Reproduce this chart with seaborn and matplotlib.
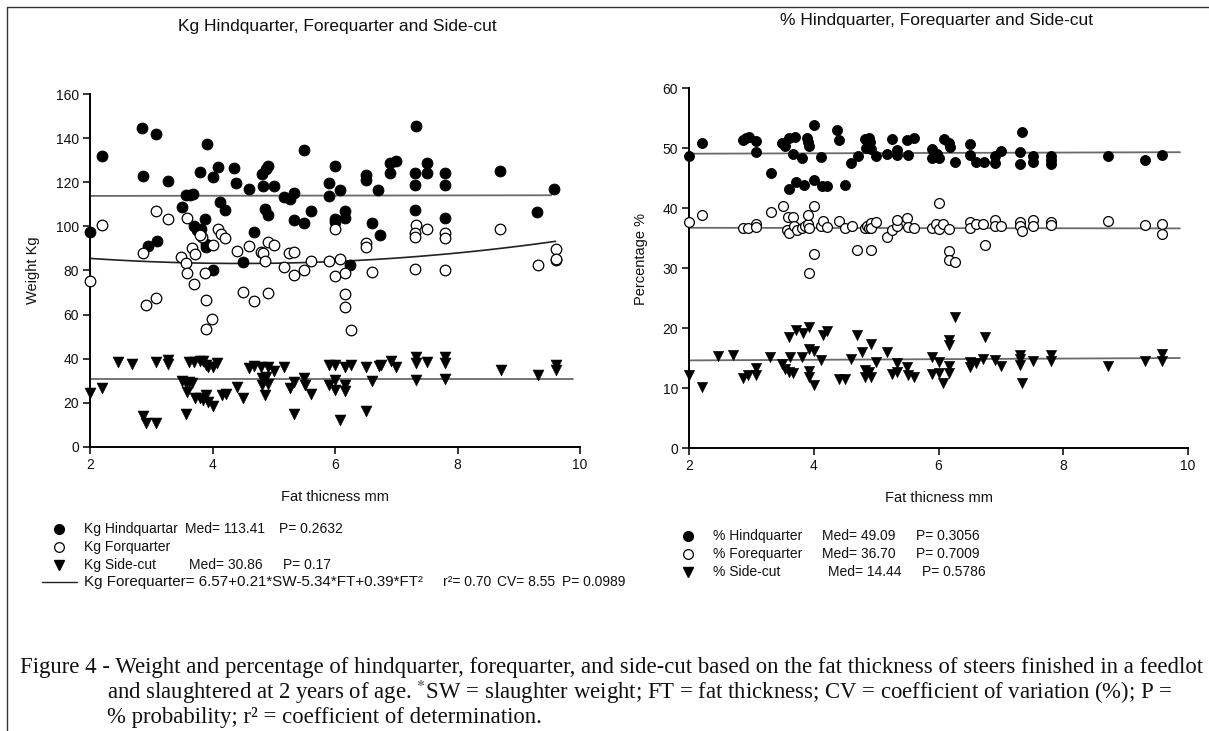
import numpy as np
import pandas as pd
import matplotlib
matplotlib.use("Agg")
import matplotlib.pyplot as plt
import seaborn as sns
from matplotlib.lines import Line2D

# ---------------- data: left panel (kg) ----------------
hind_kg_x = [2.0, 2.19, 2.85, 3.07, 2.86, 3.28, 2.95, 3.10, 3.51, 3.57, 3.63, 3.68, 3.91, 3.80, 4.0, 4.09,
             4.13, 4.2, 3.88, 3.69, 3.75, 3.82, 3.89, 3.89, 4.35, 4.39, 4.59, 4.68, 4.49, 4.0, 4.8, 4.88,
             4.9, 4.82, 5.0, 4.86, 4.91, 5.17, 5.26, 5.33, 5.5, 5.33, 5.5, 5.6, 5.9, 5.9, 6.0, 6.08, 6.0,
             6.0, 6.16, 6.16, 6.5, 6.5, 6.7, 6.6, 6.74, 6.9, 7.0, 6.9, 7.33, 7.31, 7.31, 7.31, 7.5, 7.5,
             7.8, 7.8, 7.8, 8.7, 9.3, 9.58, 6.25]
hind_kg_y = [97.5, 131.9, 144.6, 141.9, 122.8, 120.4, 91.1, 93.2, 108.9, 114.4, 114.1, 114.6, 137.4, 124.7,
             122.5, 127.0, 111.0, 107.4, 103.2, 100.2, 98.2, 99.0, 92.0, 90.5, 126.5, 119.8, 116.8, 97.5,
             83.9, 80.2, 123.7, 126.0, 127.4, 118.3, 118.3, 107.7, 105.3, 113.2, 112.6, 115.0, 134.6, 102.9,
             101.7, 106.8, 119.5, 113.8, 127.4, 116.5, 103.5, 102.0, 106.8, 103.8, 123.4, 121.0, 116.5,
             101.4, 96.0, 128.9, 129.8, 124.1, 145.5, 124.0, 118.6, 107.4, 128.9, 124.0, 124.0, 118.6,
             103.8, 125.0, 106.5, 117.0, 82.4]

fore_kg_x = [2.19, 3.07, 3.28, 2.86, 3.49, 3.58, 3.56, 3.67, 3.71, 3.83, 3.79, 4.0, 4.09, 4.14, 4.2, 4.4,
             4.59, 4.79, 4.82, 4.9, 5.0, 4.86, 5.16, 5.25, 5.33, 5.5, 5.6, 5.9, 6.08, 6.0, 2.0, 2.92, 3.07,
             3.59, 3.69, 3.88, 3.89, 3.99, 3.89, 4.5, 4.68, 4.9, 5.33, 6.0, 6.16, 6.16, 6.16, 6.26, 6.6,
             7.3, 7.8, 9.32, 9.6, 7.33, 7.31, 7.31, 7.5, 7.8, 7.8, 6.5, 6.5, 8.7, 9.6, 9.6]
fore_kg_y = [100.5, 106.8, 103.2, 87.8, 86.3, 103.8, 83.3, 90.2, 87.5, 95.3, 96.0, 91.7, 99.0, 96.5, 94.7,
             88.7, 91.1, 88.4, 88.1, 92.9, 91.7, 84.2, 81.5, 87.8, 88.4, 80.2, 84.2, 84.2, 85.1, 99.0, 75.4,
             64.2, 67.5, 79.0, 73.9, 79.0, 66.6, 57.9, 53.4, 70.3, 66.3, 70.0, 77.8, 77.5, 79.0, 69.4, 63.6,
             53.0, 79.3, 80.8, 80.2, 82.6, 84.8, 100.8, 96.9, 95.1, 98.7, 96.9, 94.7, 92.6, 90.5, 98.7,
             89.9, 85.4]

side_kg_x = [2.0, 2.19, 2.45, 2.69, 2.86, 2.92, 3.08, 3.08, 3.28, 3.28, 3.5, 3.56, 3.62, 3.67, 3.58, 3.56,
             3.62, 3.69, 3.79, 3.85, 3.89, 3.92, 4.0, 4.08, 3.71, 3.79, 3.85, 3.9, 3.93, 4.0, 4.16, 4.22,
             4.4, 4.5, 4.6, 4.68, 4.79, 4.91, 5.0, 5.16, 4.81, 4.87, 4.9, 4.8, 4.86, 5.26, 5.33, 5.33, 5.5,
             5.51, 5.6, 5.9, 6.0, 5.9, 6.0, 6.0, 6.08, 6.17, 6.26, 6.17, 6.17, 6.5, 6.6, 6.5, 6.72, 6.75,
             6.91, 7.0, 7.32, 7.32, 7.33, 7.51, 7.8, 7.8, 7.8, 8.71, 9.32, 9.6, 9.6]
side_kg_y = [24.3, 26.7, 38.5, 37.6, 14.0, 10.7, 11.0, 38.5, 39.4, 37.6, 30.0, 28.8, 29.5, 29.1, 24.9, 15.0,
             38.5, 38.5, 39.1, 38.8, 37.3, 36.4, 36.4, 38.2, 22.2, 22.2, 21.3, 23.7, 20.4, 18.6, 23.7, 24.0,
             27.3, 22.2, 35.8, 36.7, 36.4, 36.1, 34.3, 36.4, 31.3, 31.9, 28.6, 28.3, 23.7, 26.7, 29.5, 15.0,
             31.3, 28.0, 24.0, 37.0, 37.0, 28.2, 30.4, 25.8, 12.2, 36.4, 37.3, 28.2, 25.2, 36.1, 30.0, 16.3,
             36.7, 37.3, 38.8, 36.1, 40.6, 37.9, 30.4, 38.5, 40.9, 37.9, 31.0, 34.9, 32.5, 37.3, 34.9]

# regression / mean lines (left)
hind_kg_line_x = [2.0, 9.53]
hind_kg_line_y = [113.8, 114.1]
side_kg_line_x = [2.0, 9.88]
side_kg_line_y = [30.8, 30.8]
fore_kg_curve = [90.75, -3.39, 0.38]   # a + b*FT + c*FT^2 as drawn
fore_kg_curve_range = [2.0, 9.6]

# ---------------- data: right panel (%) ----------------
hind_pc_x = [2.0, 2.21, 2.86, 2.91, 2.96, 3.08, 3.08, 3.31, 3.49, 3.54, 3.61, 3.7, 3.67, 3.81, 3.6, 3.71,
             3.84, 3.89, 3.91, 3.92, 4.0, 4.0, 4.11, 4.13, 4.22, 4.37, 4.41, 4.5, 4.6, 4.71, 4.82, 4.88,
             4.9, 4.83, 4.91, 5.0, 5.17, 5.26, 5.34, 5.34, 5.49, 5.6, 5.51, 5.89, 5.89, 5.97, 6.01, 6.09,
             6.17, 6.18, 6.26, 6.5, 6.5, 6.6, 6.73, 6.91, 6.91, 7.0, 7.34, 7.3, 7.3, 7.51, 7.51, 7.81,
             7.81, 7.81, 8.71, 9.31, 9.59]
hind_pc_y = [48.6, 50.9, 51.3, 51.7, 51.9, 51.1, 49.4, 45.9, 50.8, 50.4, 51.7, 51.8, 49.05, 48.4, 43.2,
             44.3, 43.9, 51.6, 51.05, 50.4, 53.8, 44.7, 48.5, 43.6, 43.6, 53.05, 51.3, 43.8, 47.5, 48.6,
             51.5, 51.6, 51.05, 49.95, 49.8, 48.7, 49.05, 51.5, 49.6, 48.9, 51.3, 51.6, 48.8, 49.8, 48.4,
             49.05, 48.3, 51.5, 50.8, 50.2, 47.6, 50.6, 48.8, 47.6, 47.6, 48.6, 47.5, 49.5, 52.7, 49.4,
             47.3, 48.6, 47.6, 48.6, 47.95, 47.3, 48.6, 48.05, 48.9]

fore_pc_x = [2.0, 2.21, 2.87, 2.95, 3.08, 3.08, 3.31, 3.5, 3.59, 3.67, 3.57, 3.61, 3.69, 3.73, 3.81, 3.86,
             3.91, 3.92, 3.9, 4.0, 4.0, 4.11, 4.15, 4.22, 4.41, 4.5, 4.61, 4.7, 4.82, 4.85, 4.88, 4.91,
             4.92, 5.0, 4.91, 5.18, 5.26, 5.34, 5.34, 5.5, 5.51, 5.61, 5.89, 5.96, 6.01, 6.08, 6.17, 6.01,
             6.17, 6.17, 6.26, 6.5, 6.5, 6.6, 6.72, 6.75, 6.91, 6.91, 7.0, 7.3, 7.3, 7.34, 7.51, 7.51,
             7.81, 7.81, 8.71, 9.31, 9.59, 9.59, 3.92]
fore_pc_y = [37.6, 38.8, 36.7, 36.6, 37.4, 36.8, 39.3, 40.3, 38.5, 38.5, 36.3, 35.8, 37.05, 36.3, 36.6,
             36.95, 37.3, 36.6, 38.8, 40.3, 32.4, 37.05, 37.8, 36.8, 37.8, 36.6, 37.05, 33.05, 36.7, 37.05,
             36.6, 37.5, 36.6, 37.7, 33.05, 35.2, 36.4, 37.05, 38.05, 38.3, 36.8, 36.6, 36.7, 37.4, 36.5,
             37.4, 36.5, 40.8, 32.8, 31.3, 30.95, 37.7, 36.6, 37.3, 37.3, 33.8, 38.05, 37.05, 36.95, 37.7,
             37.05, 36.2, 38.05, 37.05, 37.7, 37.2, 37.8, 37.2, 37.4, 35.6, 29.2]

side_pc_x = [2.0, 2.21, 2.46, 2.7, 2.87, 2.95, 3.08, 3.08, 3.3, 3.49, 3.54, 3.6, 3.67, 3.6, 3.71, 3.82, 3.62,
             3.81, 3.92, 3.92, 4.0, 3.92, 3.92, 4.0, 4.11, 4.15, 4.22, 4.41, 4.5, 4.6, 4.7, 4.78, 4.91,
             4.82, 4.89, 4.82, 4.91, 5.0, 5.18, 5.26, 5.34, 5.34, 5.5, 5.51, 5.61, 5.89, 6.01, 5.89, 6.01,
             6.08, 6.17, 6.17, 6.26, 6.17, 6.17, 6.5, 6.5, 6.6, 6.72, 6.75, 6.91, 7.0, 7.3, 7.3, 7.3, 7.34,
             7.51, 7.81, 7.81, 8.71, 9.31, 9.59, 9.59]
side_pc_y = [12.1, 10.2, 15.3, 15.45, 11.7, 12.1, 12.2, 13.3, 15.1, 14.0, 13.2, 12.7, 12.55, 18.55, 19.7,
             19.1, 15.2, 15.2, 20.1, 16.55, 16.2, 12.9, 11.8, 10.55, 14.7, 18.8, 19.55, 11.55, 11.55, 14.8,
             18.8, 16.0, 17.3, 13.0, 12.7, 11.9, 11.9, 14.3, 16.0, 12.3, 12.7, 14.1, 13.55, 12.1, 11.9,
             15.1, 14.3, 12.3, 12.45, 10.9, 13.7, 12.45, 21.8, 18.0, 17.1, 14.3, 13.55, 14.1, 14.9, 18.55,
             14.7, 13.7, 15.45, 14.8, 13.8, 10.9, 14.55, 15.55, 14.45, 13.7, 14.55, 15.7, 14.55]

pc_line_x = [2.0, 9.87]
hind_pc_line_y = [49.05, 49.3]
fore_pc_line_y = [36.7, 36.6]
side_pc_line_y = [14.6, 15.0]

# texts
left_title = "Kg Hindquarter, Forequarter and Side-cut"
right_title = "% Hindquarter, Forequarter and Side-cut"
x_label = "Fat thicness mm"
left_ylabel = "Weight Kg"
right_ylabel = "Percentage %"
left_xticks = [2, 4, 6, 8, 10]
left_yticks = [0, 20, 40, 60, 80, 100, 120, 140, 160]
right_xticks = [2, 4, 6, 8, 10]
right_yticks = [0, 10, 20, 30, 40, 50, 60]

# ---------------- drawing ----------------
sns.set_theme(style="white")
plt.rcParams['font.family'] = ['Liberation Sans', 'DejaVu Sans']
plt.rcParams['mathtext.fontset'] = 'stix'

W, H = 1209, 731
fig = plt.figure(figsize=(W / 100, H / 100), dpi=100)
fig.patch.set_facecolor('white')

def fx(px):
    return px / W

def fy(py):
    return 1 - py / H

axL = fig.add_axes([fx(90), fy(447), fx(580) - fx(90), fy(94) - fy(447)])
axR = fig.add_axes([fx(689), fy(448), fx(1188) - fx(689), fy(88) - fy(448)])

def scatter(ax, xs, ys, kind, size):
    df = pd.DataFrame({"x": xs, "y": ys})
    if kind == "filled":
        sns.scatterplot(data=df, x="x", y="y", ax=ax, marker="o", s=size, color="black",
                        edgecolor="black", linewidth=0.6, clip_on=False, zorder=3)
    elif kind == "open":
        sns.scatterplot(data=df, x="x", y="y", ax=ax, marker="o", s=size, color="white",
                        edgecolor="black", linewidth=0.9, clip_on=False, zorder=3)
    else:
        sns.scatterplot(data=df, x="x", y="y", ax=ax, marker="v", s=size, color="black",
                        edgecolor="black", linewidth=0.4, clip_on=False, zorder=3)

# left panel
scatter(axL, hind_kg_x, hind_kg_y, "filled", 62)
scatter(axL, fore_kg_x, fore_kg_y, "open", 58)
scatter(axL, side_kg_x, side_kg_y, "tri", 62)
sns.lineplot(x=hind_kg_line_x, y=hind_kg_line_y, ax=axL, color="#6a6a6a", lw=1.3, zorder=2)
sns.lineplot(x=side_kg_line_x, y=side_kg_line_y, ax=axL, color="#6a6a6a", lw=1.3, zorder=2)
cx = np.linspace(fore_kg_curve_range[0], fore_kg_curve_range[1], 120)
a, b, c = fore_kg_curve
sns.lineplot(x=cx, y=a + b * cx + c * cx ** 2, ax=axL, color="#222222", lw=1.2, zorder=2)

# right panel
scatter(axR, hind_pc_x, hind_pc_y, "filled", 52)
scatter(axR, fore_pc_x, fore_pc_y, "open", 50)
scatter(axR, side_pc_x, side_pc_y, "tri", 55)
sns.lineplot(x=pc_line_x, y=hind_pc_line_y, ax=axR, color="#6a6a6a", lw=1.3, zorder=2)
sns.lineplot(x=pc_line_x, y=fore_pc_line_y, ax=axR, color="#6a6a6a", lw=1.3, zorder=2)
sns.lineplot(x=pc_line_x, y=side_pc_line_y, ax=axR, color="#6a6a6a", lw=1.3, zorder=2)

for ax, xt, yt, ylim in [(axL, left_xticks, left_yticks, (0, 160)),
                          (axR, right_xticks, right_yticks, (0, 60))]:
    ax.set_xlim(2, 10)
    ax.set_ylim(*ylim)
    ax.set_xticks(xt)
    ax.set_yticks(yt)
    ax.set_xticklabels([str(v) for v in xt])
    ax.set_yticklabels([str(v) for v in yt])
    ax.set_xlabel("")
    ax.set_ylabel("")
    ax.set_facecolor("none")
    for s in ["top", "right"]:
        ax.spines[s].set_visible(False)
    for s in ["left", "bottom"]:
        ax.spines[s].set_color("black")
        ax.spines[s].set_linewidth(1.4)
    ax.tick_params(axis="both", direction="out", length=5, width=1.1, color="black",
                   labelsize=10, labelcolor="#111111", pad=3, left=True, bottom=True)
    ax.grid(False)

# titles & labels
fig.text(fx(337), fy(27), left_title, ha="center", va="center", fontsize=12.5, color="#111111")
fig.text(fx(936), fy(21), right_title, ha="center", va="center", fontsize=12.5, color="#111111")
fig.text(fx(335), fy(497), x_label, ha="center", va="center", fontsize=10.5, color="#111111")
fig.text(fx(939), fy(498), x_label, ha="center", va="center", fontsize=10.5, color="#111111")
fig.text(fx(33), fy(270), left_ylabel, ha="center", va="center", rotation=90, fontsize=10.5, color="#111111")
fig.text(fx(641), fy(259), right_ylabel, ha="center", va="center", rotation=90, fontsize=10.5, color="#111111")

# legends
def leg_marker(px, py, kind, ms):
    if kind == "filled":
        m = Line2D([fx(px)], [fy(py)], marker="o", ms=ms, mfc="black", mec="black", ls="none",
                   transform=fig.transFigure)
    elif kind == "open":
        m = Line2D([fx(px)], [fy(py)], marker="o", ms=ms, mfc="white", mec="black", mew=0.9, ls="none",
                   transform=fig.transFigure)
    else:
        m = Line2D([fx(px)], [fy(py)], marker="v", ms=ms, mfc="black", mec="black", ls="none",
                   transform=fig.transFigure)
    fig.add_artist(m)

def ltxt(px, py, s, fs=10):
    return fig.text(fx(px), fy(py), s, ha="left", va="center", fontsize=fs, color="#111111")

# left legend
leg_marker(59, 529, "filled", 7)
ltxt(84, 529, "Kg Hindquartar"); ltxt(185, 529, "Med= 113.41"); ltxt(279, 529, "P= 0.2632")
leg_marker(59, 547, "open", 7)
ltxt(84, 547, "Kg Forquarter")
leg_marker(59, 565, "tri", 7)
ltxt(84, 565, "Kg Side-cut"); ltxt(189, 565, "Med= 30.86"); ltxt(283, 565, "P= 0.17")
fig.add_artist(Line2D([fx(42), fx(77)], [fy(582), fy(582)], color="#222222", lw=1.0,
                      transform=fig.transFigure))
ltxt(84, 582, "Kg Forequarter= 6.57+0.21*SW-5.34*FT+0.39*FT²", 10.9)
ltxt(443, 582, "r²= 0.70"); ltxt(497, 582, "CV= 8.55"); ltxt(562, 582, "P= 0.0989")

# right legend
leg_marker(688, 536, "filled", 7)
ltxt(713, 536, "% Hindquarter"); ltxt(822, 536, "Med= 49.09"); ltxt(916, 536, "P= 0.3056")
leg_marker(688, 554, "open", 7)
ltxt(713, 554, "% Forequarter"); ltxt(822, 554, "Med= 36.70"); ltxt(916, 554, "P= 0.7009")
leg_marker(688, 572, "tri", 7)
ltxt(713, 572, "% Side-cut"); ltxt(828, 572, "Med= 14.44"); ltxt(922, 572, "P= 0.5786")

# caption
cap1 = "Figure 4 - Weight and percentage of hindquarter, forequarter, and side-cut based on the fat thickness of steers finished in a feedlot"
cap2 = r"and slaughtered at 2 years of age. $^{*}$SW = slaughter weight; FT = fat thickness; CV = coefficient of variation (%); P ="
cap3 = "% probability; r² = coefficient of determination."
fs = 13.0
t1 = fig.text(fx(20), fy(667), cap1, ha="left", va="center", fontsize=fs, family="Liberation Serif", color="#111111")
for _ in range(3):
    fig.canvas.draw()
    w = t1.get_window_extent(renderer=fig.canvas.get_renderer()).width
    fs = fs * (1183 / w)
    t1.set_fontsize(fs)
fig.text(fx(107), fy(692), cap2, ha="left", va="center", fontsize=fs, family="Liberation Serif", color="#111111")
fig.text(fx(107), fy(717), cap3, ha="left", va="center", fontsize=fs, family="Liberation Serif", color="#111111")

# outer frame
fig.add_artist(Line2D([fx(6.5), fx(6.5)], [fy(6.5), -0.01], color="#333333", lw=1.0, transform=fig.transFigure))
fig.add_artist(Line2D([fx(6.5), 1.01], [fy(6.5), fy(6.5)], color="#333333", lw=1.0, transform=fig.transFigure))

fig.savefig("out.png", dpi=100)
